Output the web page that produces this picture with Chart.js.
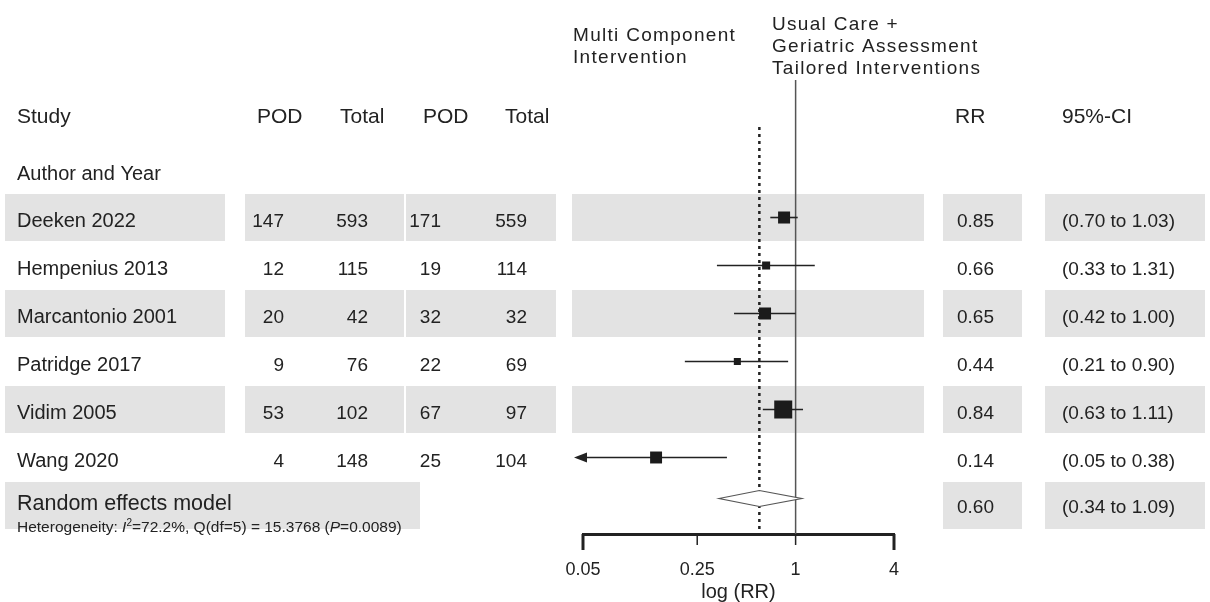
<!DOCTYPE html>
<html>
<head>
<meta charset="utf-8">
<script src="https://cdn.jsdelivr.net/npm/chart.js@4.4.1/dist/chart.umd.min.js"></script>
<style>
  html, body { margin: 0; padding: 0; background: #fff; }
  canvas { display: block; }
</style>
</head>
<body>
<canvas id="forest" width="1210" height="602"></canvas>
<script>
const studies = ["Deeken 2022", "Hempenius 2013", "Marcantonio 2001", "Patridge 2017", "Vidim 2005", "Wang 2020"];
const podIntervention = [147, 12, 20, 9, 53, 4];
const totalIntervention = [593, 115, 42, 76, 102, 148];
const podControl = [171, 19, 32, 22, 67, 25];
const totalControl = [559, 114, 32, 69, 97, 104];
const rr = [0.85, 0.66, 0.65, 0.44, 0.84, 0.14];
const ciLow = [0.70, 0.33, 0.42, 0.21, 0.63, 0.05];
const ciHigh = [1.03, 1.31, 1.00, 0.90, 1.11, 0.38];
// study weights (%)
const weights = [16.6, 7.4, 16.6, 5.7, 37.3, 16.4];
// random effects model: RR, lower, upper
const pooled = [0.60, 0.34, 1.09];
const xTicks = [0.05, 0.25, 1, 4];

const FONT = "'Liberation Sans', Arial, sans-serif";
const INK = "#222";
const BAND = "#e3e3e3";

const pooledRow = studies.length;

// box side grows with sqrt(weight); rect pointStyle side = radius * sqrt(2)
const boxRadius = weights.map((w) => (2.95 * Math.sqrt(w)) / Math.SQRT2);

const text = (ctx, str, x, y, size, align, style) => {
  ctx.font = (style || "") + " " + size + "px " + FONT;
  ctx.textAlign = align || "left";
  ctx.fillText(str, x, y);
};

const forestPlugin = {
  id: "forest",
  beforeDatasetsDraw(chart) {
    const { ctx, chartArea, scales: { x, y } } = chart;
    ctx.save();

    // shaded rows
    ctx.fillStyle = BAND;
    const cols = [[5, 225], [245, 404], [406, 556], [572, 924], [943, 1022], [1045, 1205]];
    for (let k = 0; k < studies.length; k += 2) {
      const top = y.getPixelForValue(k) - 23.5;
      cols.forEach(([a, b]) => ctx.fillRect(a, top, b - a, 47));
    }
    const ptop = y.getPixelForValue(pooledRow) - 23.5;
    [[5, 420], [943, 1022], [1045, 1205]].forEach(([a, b]) => ctx.fillRect(a, ptop, b - a, 47));

    // line of no effect
    const x1 = x.getPixelForValue(1);
    ctx.strokeStyle = "#555";
    ctx.lineWidth = 1.5;
    ctx.beginPath();
    ctx.moveTo(x1, chartArea.top);
    ctx.lineTo(x1, chartArea.bottom);
    ctx.stroke();

    // pooled estimate (dotted)
    const xp = x.getPixelForValue(pooled[0]);
    ctx.strokeStyle = INK;
    ctx.lineWidth = 2.5;
    ctx.setLineDash([3, 4]);
    ctx.beginPath();
    ctx.moveTo(xp, chartArea.top + 47);
    ctx.lineTo(xp, chartArea.bottom);
    ctx.stroke();
    ctx.setLineDash([]);

    // confidence intervals
    ctx.strokeStyle = INK;
    ctx.fillStyle = INK;
    ctx.lineWidth = 1.6;
    studies.forEach((s, k) => {
      const yy = y.getPixelForValue(k);
      const clipped = ciLow[k] <= x.min;
      const xa = x.getPixelForValue(Math.max(ciLow[k], x.min));
      const xb = x.getPixelForValue(ciHigh[k]);
      ctx.beginPath();
      ctx.moveTo(clipped ? xa - 5 : xa, yy);
      ctx.lineTo(xb, yy);
      ctx.stroke();
      if (clipped) {
        ctx.beginPath();
        ctx.moveTo(xa - 9, yy);
        ctx.lineTo(xa + 4, yy - 5);
        ctx.lineTo(xa + 4, yy + 5);
        ctx.closePath();
        ctx.fill();
      }
    });
    ctx.restore();
  },
  afterDatasetsDraw(chart) {
    const { ctx, scales: { x, y } } = chart;
    // summary diamond
    const yy = y.getPixelForValue(pooledRow) - 7;
    const xl = x.getPixelForValue(pooled[1]);
    const xc = x.getPixelForValue(pooled[0]);
    const xr = x.getPixelForValue(pooled[2]);
    ctx.save();
    ctx.fillStyle = "#fff";
    ctx.strokeStyle = "#555";
    ctx.lineWidth = 1.2;
    ctx.beginPath();
    ctx.moveTo(xl, yy);
    ctx.lineTo(xc, yy - 8);
    ctx.lineTo(xr, yy);
    ctx.lineTo(xc, yy + 8);
    ctx.closePath();
    ctx.fill();
    ctx.stroke();
    ctx.restore();
  },
  afterDraw(chart) {
    const { ctx, chartArea, scales: { x, y } } = chart;
    ctx.save();
    ctx.fillStyle = INK;
    ctx.textBaseline = "alphabetic";

    // axis ticks
    ctx.strokeStyle = INK;
    xTicks.forEach((v, i) => {
      const px = x.getPixelForValue(v);
      const end = i === 0 || i === xTicks.length - 1;
      ctx.lineWidth = end ? 3 : 1.5;
      ctx.beginPath();
      ctx.moveTo(px, chartArea.bottom);
      ctx.lineTo(px, chartArea.bottom + (end ? 16 : 11));
      ctx.stroke();
    });

    // group labels
    ctx.letterSpacing = "1.3px";
    text(ctx, "Multi Component", 573, 41, 19);
    text(ctx, "Intervention", 573, 63, 19);
    text(ctx, "Usual Care +", 772, 30, 19);
    text(ctx, "Geriatric Assessment", 772, 52, 19);
    text(ctx, "Tailored Interventions", 772, 74, 19);
    ctx.letterSpacing = "0px";

    // column headers
    text(ctx, "Study", 17, 123, 21);
    text(ctx, "POD", 257, 123, 21);
    text(ctx, "Total", 340, 123, 21);
    text(ctx, "POD", 423, 123, 21);
    text(ctx, "Total", 505, 123, 21);
    text(ctx, "RR", 955, 123, 21);
    text(ctx, "95%-CI", 1062, 123, 21);
    text(ctx, "Author and Year", 17, 180, 20);

    // study rows
    studies.forEach((s, k) => {
      const base = y.getPixelForValue(k) + 9.5;
      text(ctx, s, 17, base, 20);
      text(ctx, String(podIntervention[k]), 284, base, 19, "right");
      text(ctx, String(totalIntervention[k]), 368, base, 19, "right");
      text(ctx, String(podControl[k]), 441, base, 19, "right");
      text(ctx, String(totalControl[k]), 527, base, 19, "right");
      text(ctx, rr[k].toFixed(2), 957, base, 19);
      text(ctx, "(" + ciLow[k].toFixed(2) + " to " + ciHigh[k].toFixed(2) + ")", 1062, base, 19);
    });

    // random effects row
    const pc = y.getPixelForValue(pooledRow);
    text(ctx, "Random effects model", 17, pc + 5, 21.5);
    text(ctx, pooled[0].toFixed(2), 957, pc + 7.5, 19);
    text(ctx, "(" + pooled[1].toFixed(2) + " to " + pooled[2].toFixed(2) + ")", 1062, pc + 7.5, 19);

    // heterogeneity line, with italic I / P and superscript 2
    const hy = pc + 27;
    const parts = [
      ["Heterogeneity: ", "", 15.5, 0],
      ["I", "italic", 15.5, 0],
      ["2", "", 10, -6],
      ["=72.2%, Q(df=5) = 15.3768 (", "", 15.5, 0],
      ["P", "italic", 15.5, 0],
      ["=0.0089)", "", 15.5, 0],
    ];
    let hx = 17;
    parts.forEach(([str, style, size, dy]) => {
      ctx.font = style + " " + size + "px " + FONT;
      ctx.textAlign = "left";
      ctx.fillText(str, hx, hy + dy);
      hx += ctx.measureText(str).width;
    });
    ctx.restore();
  },
};

new Chart(document.getElementById("forest"), {
  type: "scatter",
  data: {
    datasets: [
      {
        data: studies.map((s, k) => ({ x: rr[k], y: k })),
        pointStyle: "rect",
        pointRadius: boxRadius,
        pointHoverRadius: boxRadius,
        backgroundColor: "#1b1b1b",
        borderColor: "#1b1b1b",
        borderWidth: 0,
      },
    ],
  },
  options: {
    responsive: false,
    animation: false,
    events: [],
    layout: { padding: { left: 583, right: 316, top: 80, bottom: 0 } },
    plugins: { legend: { display: false }, tooltip: { enabled: false } },
    scales: {
      x: {
        type: "logarithmic",
        min: xTicks[0],
        max: xTicks[xTicks.length - 1],
        afterBuildTicks: (scale) => {
          scale.ticks = xTicks.map((v) => ({ value: v }));
        },
        // fixed axis band so the plot area ends where the reference's does
        afterFit: (scale) => {
          scale.height = 68;
        },
        grid: { display: false, drawTicks: false },
        border: { display: true, color: INK, width: 3 },
        ticks: {
          callback: (v) => String(v),
          font: { family: FONT, size: 18, lineHeight: 1.2 },
          color: INK,
          padding: 25,
          maxRotation: 0,
          autoSkip: false,
        },
        title: {
          display: true,
          text: "log (RR)",
          font: { family: FONT, size: 20, lineHeight: 1 },
          color: INK,
          padding: { top: 3, bottom: 0 },
        },
      },
      y: {
        type: "linear",
        display: false,
        reverse: true,
        min: -2.865,
        max: 6.594,
      },
    },
  },
  plugins: [forestPlugin],
});
</script>
</body>
</html>
